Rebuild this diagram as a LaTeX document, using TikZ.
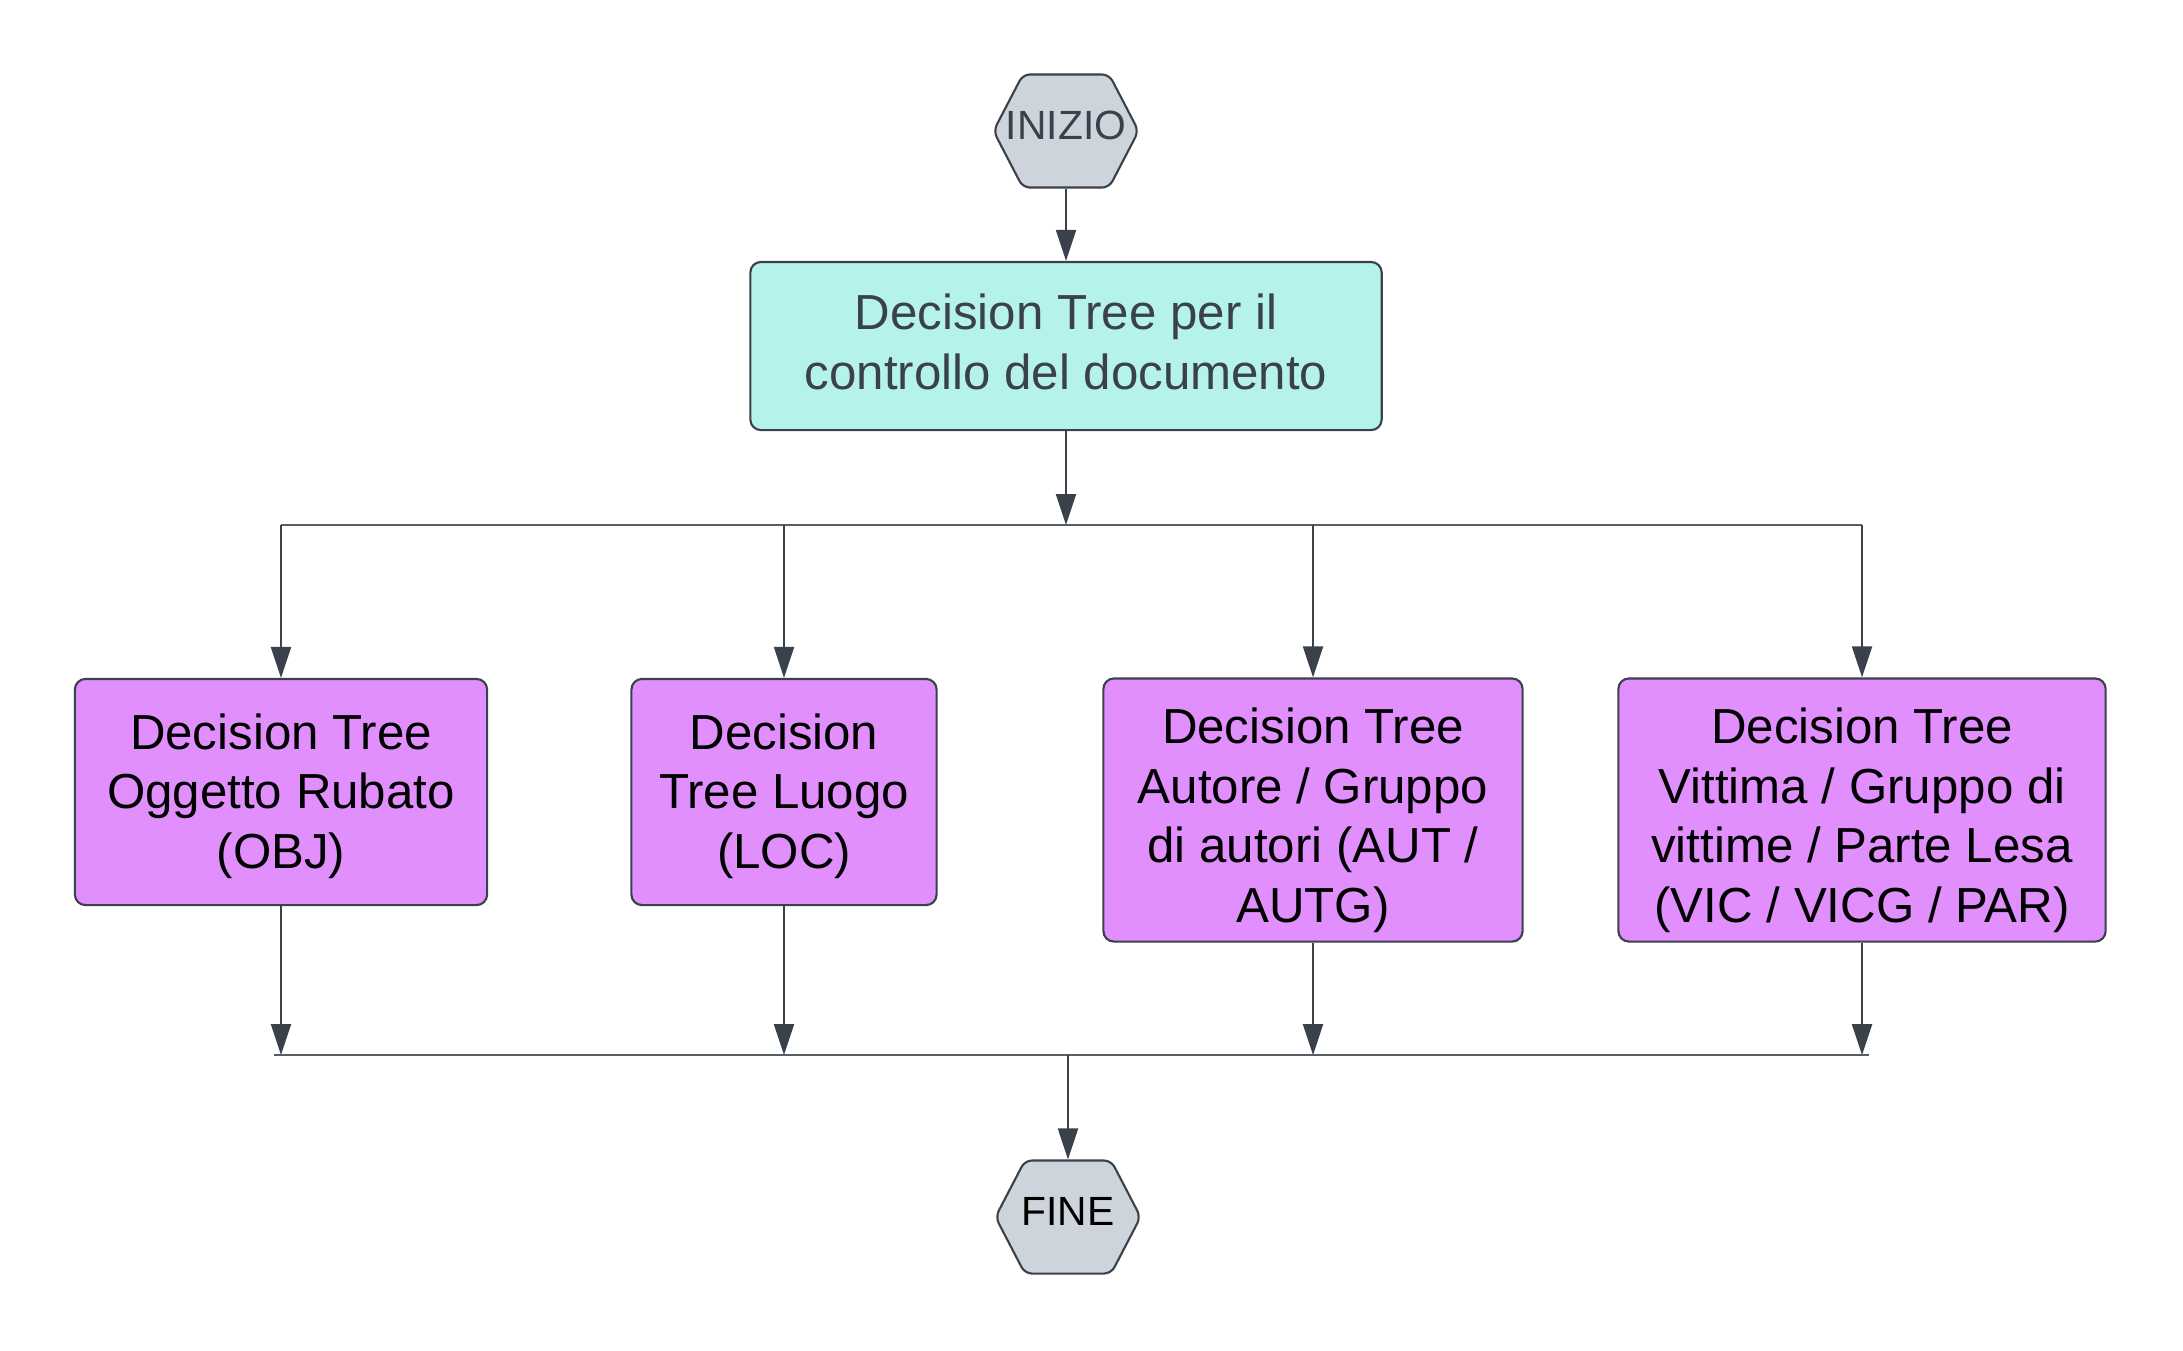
\documentclass[tikz,border=0pt]{standalone}
\usepackage{fontspec}
\setmainfont{Liberation Sans}
\usepackage{tikz}
\usetikzlibrary{arrows.meta}
\usetikzlibrary{shapes.symbols}
\definecolor{linegray}{HTML}{3A414A}
\definecolor{hexfill}{HTML}{CED4DC}
\definecolor{mainfill}{HTML}{B5F3EA}
\definecolor{treefill}{HTML}{E08FFC}
\newcommand{\topgap}[1]{\rule{0pt}{#1}}
\tikzset{
  terminal/.style={shape=signal, signal to=west and east, signal pointer angle=125,
    draw=linegray, fill=hexfill, line width=0.6pt, rounded corners=2pt,
    minimum width=1.45cm, minimum height=1.13cm, inner sep=0pt, text depth=3pt,
    font=\fontsize{11.6}{14}\selectfont},
  mainbox/.style={draw=linegray, fill=mainfill, rounded corners=3pt, line width=0.6pt,
    minimum width=6.31cm, minimum height=1.68cm, align=center, text=linegray,
    font=\fontsize{14}{17}\selectfont},
  treebox/.style={draw=linegray, fill=treefill, rounded corners=3pt, line width=0.6pt,
    inner ysep=1pt, align=center, font=\fontsize{14}{17}\selectfont},
  flow/.style={draw=linegray, line width=0.6pt, -{Triangle[length=3.1mm,width=2mm]}},
  bus/.style={draw=linegray!85, line width=0.6pt}
}
\begin{document}
\begin{tikzpicture}[x=0.01cm, y=-0.01cm]
\useasboundingbox (0,0) rectangle (2183,1350);
\node[terminal, text=linegray] (start) at (1066,131) {\makebox[0pt]{INIZIO}};
\node[mainbox] (main) at (1066,346)
  {Decision Tree per il\\controllo del documento\rule[-2.3pt]{0pt}{0pt}};
\node[treebox, minimum width=4.12cm, minimum height=2.26cm] (obj) at (281,792)
  {\topgap{12.5pt}Decision Tree\\Oggetto Rubato\\(OBJ)};
\node[treebox, minimum width=3.05cm, minimum height=2.26cm] (loc) at (784,792)
  {\topgap{12.5pt}Decision\\Tree Luogo\\(LOC)};
\node[treebox, minimum width=4.19cm, minimum height=2.63cm] (aut) at (1313,810)
  {\topgap{16pt}Decision Tree\\Autore / Gruppo\\di autori (AUT /\\AUTG)};
\node[treebox, minimum width=4.87cm, minimum height=2.63cm] (vic) at (1862,810)
  {\topgap{16pt}Decision Tree\\Vittima / Gruppo di\\vittime / Parte Lesa\\(VIC / VICG / PAR)};
\node[terminal] (stop) at (1068,1217) {\makebox[0pt]{FINE}};
\coordinate (split) at (1066,525);
\coordinate (join) at (1068,1055);
% busses
\draw[bus] (obj.north |- split) -- (vic.north |- split);
\draw[bus] ([xshift=-2pt]obj.south |- join) -- ([xshift=2pt]vic.south |- join);
% arrows
\draw[flow] (start) -- (main);
\draw[flow] (main) -- (split);
\foreach \t in {obj,loc,aut,vic} {
  \draw[flow] (\t.north |- split) -- (\t.north);
  \draw[flow] (\t.south) -- (\t.south |- join);
}
\draw[flow] (join) -- (stop);
\end{tikzpicture}
\end{document}
